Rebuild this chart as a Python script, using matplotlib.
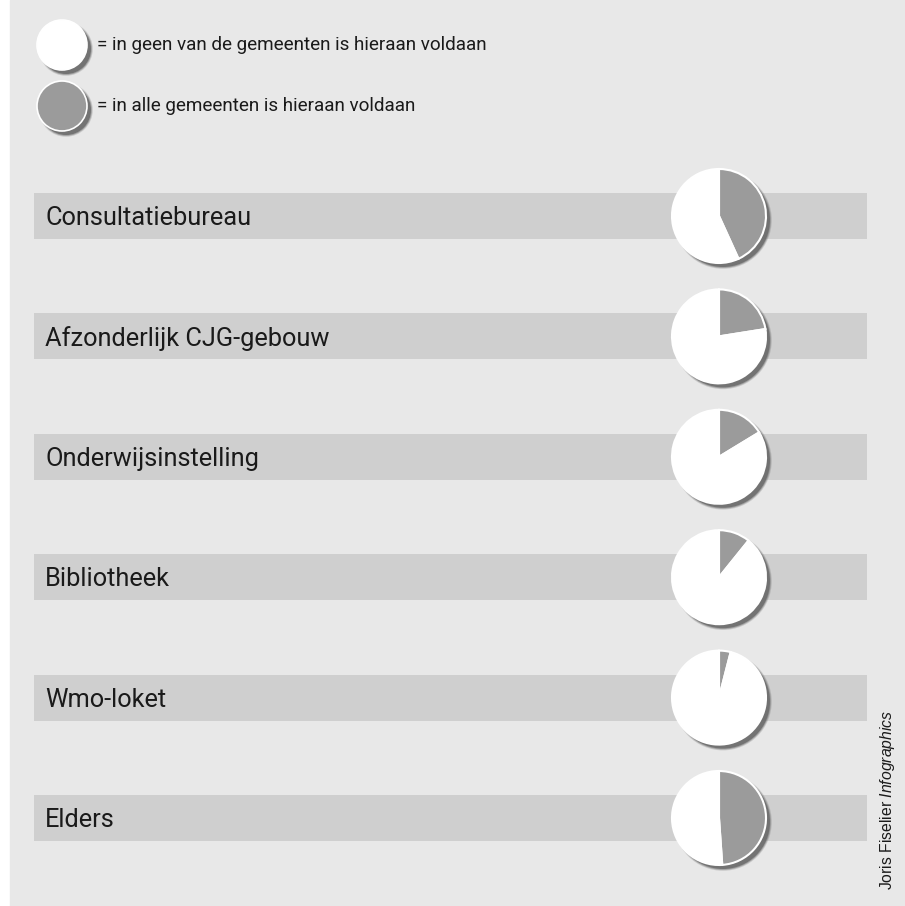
import matplotlib.pyplot as plt
from matplotlib.patches import Circle, Rectangle

# data
categories = ["Consultatiebureau", "Afzonderlijk CJG-gebouw", "Onderwijsinstelling",
              "Bibliotheek", "Wmo-loket", "Elders"]
share_all = [0.432, 0.225, 0.163, 0.108, 0.04, 0.489]   # grey part
legend_labels = ["= in geen van de gemeenten is hieraan voldaan",
                 "= in alle gemeenten is hieraan voldaan"]
legend_colors = ["white", "#9b9b9b"]
credit = "Joris Fiselier $\\it{Infographics}$"

plt.rcParams['font.family'] = ['Roboto', 'DejaVu Sans']
plt.rcParams['mathtext.fontset'] = 'custom'
plt.rcParams['mathtext.rm'] = 'Liberation Sans'
plt.rcParams['mathtext.it'] = 'Liberation Sans:italic'

W, H = 905, 906
fig = plt.figure(figsize=(W / 100, H / 100), dpi=100)
fig.patch.set_facecolor("white")
ax = fig.add_axes([0, 0, 1, 1])
ax.set_xlim(0, W)
ax.set_ylim(0, H)
ax.set_aspect("equal")
ax.axis("off")

# background panel
ax.add_patch(Rectangle((10, 0), W - 10, H, color="#e8e8e8", zorder=0))


def shadow(x, y, r):
    # soft dark shadow below-right of a disc
    for k, a in [(1.8, 0.25), (0.9, 0.45), (0, 0.9)]:
        ax.add_patch(Circle((x + 4, y - 4), r + k, color="#6e6e6e", alpha=a, lw=0, zorder=2))


# legend
for i, (lab, col) in enumerate(zip(legend_labels, legend_colors)):
    y = H - 45 - i * 61
    shadow(62, y, 25)
    ax.add_patch(Circle((62, y), 25, facecolor=col, edgecolor="white", lw=1.2, zorder=3))
    ax.text(97, y, lab, fontsize=13.6, va="center", ha="left", color="#1a1a1a")

# rows
r = 47
cx = 719
for i, (cat, s) in enumerate(zip(categories, share_all)):
    yc = H - 216 - i * 120.4
    ax.add_patch(Rectangle((34, yc - 23), 833, 46, color="#cfcfcf", lw=0, zorder=1))
    ax.text(45, yc - 2, cat, fontsize=18.3, va="center", ha="left", color="#1a1a1a", zorder=4)
    shadow(cx, yc, r)
    ax.pie([s, 1 - s], colors=["#9b9b9b", "white"], startangle=90, counterclock=False,
           center=(cx, yc), radius=r, frame=True,
           wedgeprops=dict(edgecolor="white", linewidth=1.5))
    for p in ax.patches[-2:]:
        p.set_zorder(3)

ax.set_xlim(0, W)
ax.set_ylim(0, H)
ax.axis("off")

ax.text(897, 16, credit, rotation=90, fontsize=11.3, ha="left", va="bottom",
        rotation_mode="anchor", color="#1a1a1a", fontfamily="Liberation Sans")

fig.savefig("out.png", dpi=100, facecolor="white")
